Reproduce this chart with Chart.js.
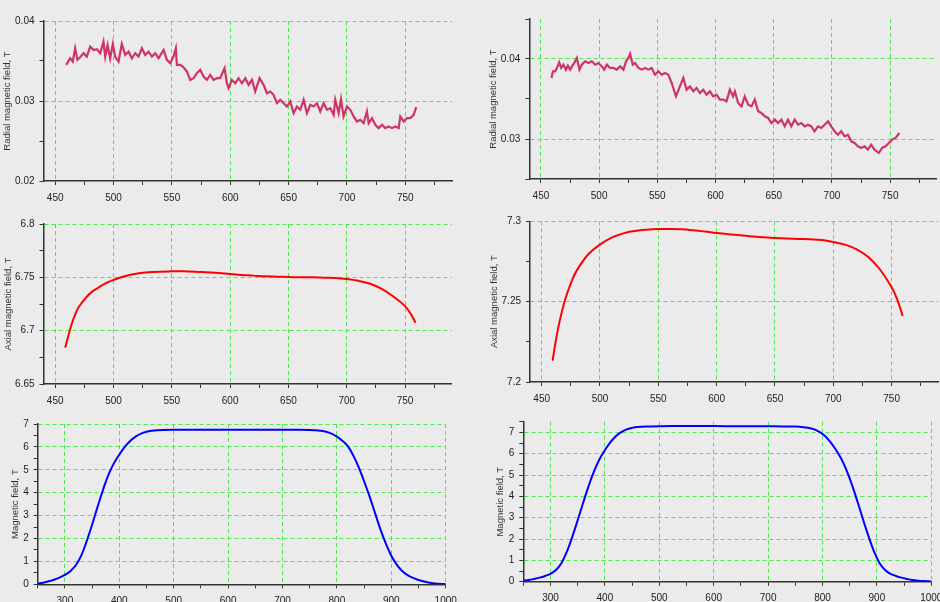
<!DOCTYPE html>
<html>
<head>
<meta charset="utf-8">
<script src="https://cdn.jsdelivr.net/npm/chart.js@4.4.1/dist/chart.umd.min.js"></script>
<style>
  html, body { margin: 0; padding: 0; background: #ebebeb; overflow: hidden; width: 940px; height: 602px; }
  canvas { position: absolute; }
</style>
</head>
<body>
<canvas id="c1"></canvas>
<canvas id="c2"></canvas>
<canvas id="c3"></canvas>
<canvas id="c4"></canvas>
<canvas id="c5"></canvas>
<canvas id="c6"></canvas>
<script>
// ---- data ----
// radial field, left magnet (mm, T)
const radialX1 = [459.4, 462.9, 465.1, 467.1, 469.1, 471.4, 474.3, 477.1, 480.0, 482.9, 485.7, 488.6, 491.4, 492.9, 494.9, 497.1, 499.4, 501.4, 504.3, 507.1,
  510.0, 512.9, 515.7, 518.6, 521.4, 524.3, 527.1, 530.0, 532.9, 535.7, 538.6, 542.9, 545.7, 548.6, 551.4, 553.4, 554.3, 557.1, 559.4, 562.9,
  565.7, 568.6, 571.4, 574.3, 577.1, 580.0, 582.9, 585.7, 588.6, 591.4, 595.1, 597.1, 598.6, 601.4, 604.3, 607.1, 610.0, 612.9, 615.7, 618.6,
  621.4, 625.1, 628.6, 631.4, 634.3, 637.1, 640.0, 642.9, 645.7, 648.6, 651.4, 654.3, 657.1, 660.0, 662.9, 665.7, 668.6, 671.4, 674.3, 677.1,
  680.0, 682.9, 685.7, 688.6, 690.0, 692.9, 694.9, 697.1, 700.0, 702.9, 705.7, 708.6, 711.4, 714.3, 717.1, 718.6, 721.4, 724.3, 727.1, 730.0,
  732.9, 735.7, 738.6, 741.4, 744.3, 745.7, 748.6, 751.4, 754.3, 757.1, 759.4];
const radialB1 = [0.03451, 0.03534, 0.03493, 0.03659, 0.03514, 0.03547, 0.03597, 0.03555, 0.03680, 0.03638, 0.03647, 0.03597, 0.03742, 0.03555, 0.03701, 0.03534, 0.03713, 0.03555, 0.03493, 0.03713,
  0.03576, 0.03617, 0.03534, 0.03597, 0.03555, 0.03659, 0.03576, 0.03617, 0.03555, 0.03597, 0.03534, 0.03638, 0.03514, 0.03472, 0.03555, 0.03659, 0.03451, 0.03451, 0.03430, 0.03368,
  0.03264, 0.03285, 0.03347, 0.03389, 0.03306, 0.03264, 0.03326, 0.03264, 0.03285, 0.03285, 0.03410, 0.03222, 0.03160, 0.03264, 0.03222, 0.03285, 0.03222, 0.03285, 0.03202, 0.03264,
  0.03119, 0.03285, 0.03202, 0.03098, 0.03119, 0.03077, 0.02973, 0.03015, 0.02973, 0.02931, 0.02994, 0.02848, 0.02931, 0.02890, 0.03015, 0.02848, 0.02952, 0.02931, 0.02973, 0.02869,
  0.02973, 0.02890, 0.02911, 0.02827, 0.03015, 0.02848, 0.03023, 0.02807, 0.02931, 0.02890, 0.02807, 0.02744, 0.02765, 0.02723, 0.02869, 0.02723, 0.02786, 0.02703, 0.02661, 0.02703,
  0.02661, 0.02682, 0.02661, 0.02682, 0.02661, 0.02807, 0.02744, 0.02786, 0.02786, 0.02827, 0.02923];

// radial field, right magnet
const radialX2 = [459.1, 460.3, 462.3, 463.7, 465.7, 467.4, 469.4, 471.4, 473.1, 475.1, 476.6, 478.6, 480.9, 483.1, 485.1, 488.0, 490.9, 493.7, 496.6, 499.4,
  502.3, 504.3, 506.6, 509.4, 512.3, 515.1, 518.0, 520.9, 523.1, 525.1, 526.6, 528.9, 530.9, 533.7, 536.6, 539.4, 542.3, 545.1, 548.0, 550.9,
  553.7, 556.6, 559.4, 562.3, 566.0, 568.9, 572.3, 575.1, 578.0, 580.9, 583.7, 586.6, 589.4, 592.3, 595.1, 598.0, 600.9, 603.7, 606.6, 609.4,
  612.3, 615.1, 616.6, 619.4, 622.3, 625.1, 628.0, 630.9, 633.7, 636.6, 639.4, 642.3, 645.1, 648.0, 650.9, 653.7, 656.6, 659.4, 662.3, 665.1,
  668.0, 670.9, 673.7, 676.6, 679.4, 682.3, 685.1, 688.0, 690.9, 693.7, 696.6, 699.4, 702.3, 705.1, 708.0, 710.9, 713.7, 716.6, 719.4, 722.3,
  725.1, 728.0, 730.9, 733.7, 736.6, 740.3, 743.1, 746.0, 748.9, 751.7, 754.6, 758.0];
const radialB2 = [0.03763, 0.03846, 0.03846, 0.03888, 0.03958, 0.03888, 0.03929, 0.03867, 0.03917, 0.03867, 0.03908, 0.03950, 0.04013, 0.03867, 0.03929, 0.03971, 0.03950, 0.03971, 0.03929, 0.03950,
  0.03908, 0.03867, 0.03929, 0.03888, 0.03888, 0.03867, 0.03908, 0.03867, 0.03971, 0.04013, 0.04063, 0.03929, 0.03950, 0.03888, 0.03867, 0.03888, 0.03867, 0.03888, 0.03804, 0.03846,
  0.03804, 0.03825, 0.03804, 0.03700, 0.03533, 0.03638, 0.03763, 0.03617, 0.03658, 0.03596, 0.03638, 0.03575, 0.03617, 0.03554, 0.03596, 0.03533, 0.03554, 0.03492, 0.03492, 0.03471,
  0.03617, 0.03533, 0.03596, 0.03450, 0.03408, 0.03533, 0.03429, 0.03408, 0.03492, 0.03346, 0.03325, 0.03283, 0.03263, 0.03200, 0.03242, 0.03200, 0.03242, 0.03158, 0.03242, 0.03158,
  0.03242, 0.03179, 0.03200, 0.03158, 0.03179, 0.03158, 0.03096, 0.03158, 0.03138, 0.03179, 0.03221, 0.03158, 0.03096, 0.03054, 0.03096, 0.03033, 0.03054, 0.02971, 0.02950, 0.02908,
  0.02888, 0.02908, 0.02867, 0.02929, 0.02867, 0.02825, 0.02888, 0.02908, 0.02950, 0.02992, 0.03013, 0.03075];

// axial field near the plateau
const axialX1 = [458.6, 461.5, 464.4, 467.2, 470.1, 475.9, 481.6, 487.4, 493.1, 500, 510.3, 521.8, 533.3, 549.7, 560, 570, 580, 590, 600, 610,
  620, 630, 640, 650, 660, 670, 680, 690, 700, 710, 720, 730, 740, 750, 755, 759];
const axialB1 = [6.6841, 6.6959, 6.7069, 6.7153, 6.7219, 6.7303, 6.7366, 6.7406, 6.7444, 6.7475, 6.7513, 6.7538, 6.7550, 6.7556, 6.7556, 6.7553, 6.7547, 6.7541, 6.7531, 6.7522,
  6.7516, 6.7509, 6.7506, 6.7503, 6.7500, 6.7500, 6.7497, 6.7494, 6.7484, 6.7467, 6.7440, 6.7392, 6.7320, 6.7230, 6.7155, 6.7075];
const axialX2 = [459.4, 462, 465, 470, 475, 480, 490, 500, 510, 520, 530, 540, 550, 560, 570, 580, 590, 600, 610, 620,
  630, 640, 650, 660, 670, 680, 690, 700, 710, 720, 730, 740, 750, 755, 759.4];
const axialB2 = [7.2133, 7.2251, 7.2365, 7.2510, 7.2614, 7.2693, 7.2795, 7.2855, 7.2898, 7.2925, 7.2940, 7.2948, 7.2952, 7.2952, 7.2950, 7.2944, 7.2936, 7.2927, 7.2920, 7.2913,
  7.2906, 7.2900, 7.2896, 7.2893, 7.2890, 7.2888, 7.2884, 7.2871, 7.2855, 7.2826, 7.2778, 7.2700, 7.2590, 7.2510, 7.2411];

// full field profile
const fieldX1 = [250, 260, 270, 280, 290, 300, 310, 320, 330, 340, 350, 360, 370, 380, 390, 400, 410, 420, 430, 440,
  450, 460, 470, 480, 500, 550, 600, 650, 700, 730, 750, 760, 770, 780, 790, 800, 810, 820, 830, 840,
  850, 860, 870, 880, 890, 900, 910, 920, 930, 940, 950, 960, 970, 980, 1000];
const fieldB1 = [0.03, 0.07, 0.13, 0.20, 0.29, 0.41, 0.575, 0.83, 1.25, 1.88, 2.6, 3.38, 4.12, 4.78, 5.28, 5.66, 6.0, 6.26, 6.45, 6.58,
  6.66, 6.705, 6.73, 6.742, 6.75, 6.75, 6.75, 6.75, 6.75, 6.75, 6.742, 6.73, 6.705, 6.66, 6.58, 6.45, 6.27, 6.03, 5.63, 5.12,
  4.50, 3.84, 3.12, 2.40, 1.78, 1.25, 0.86, 0.58, 0.40, 0.28, 0.19, 0.12, 0.07, 0.035, 0.01];
const fieldX2 = [250, 260, 270, 280, 290, 300, 310, 320, 330, 340, 350, 360, 370, 380, 390, 400, 410, 420, 430, 440,
  450, 460, 475, 500, 550, 600, 650, 700, 725, 750, 765, 775, 785, 795, 805, 815, 825, 835, 845, 855,
  865, 875, 885, 895, 905, 915, 925, 935, 945, 955, 965, 975, 985, 1000];
const fieldB2 = [0.05, 0.08, 0.13, 0.19, 0.27, 0.37, 0.55, 0.87, 1.40, 2.10, 2.88, 3.70, 4.48, 5.17, 5.74, 6.17, 6.53, 6.82, 7.01, 7.14,
  7.21, 7.25, 7.275, 7.29, 7.30, 7.295, 7.29, 7.285, 7.28, 7.27, 7.245, 7.205, 7.14, 7.01, 6.82, 6.53, 6.17, 5.74, 5.17, 4.48,
  3.70, 2.88, 2.10, 1.40, 0.87, 0.55, 0.37, 0.27, 0.19, 0.13, 0.08, 0.05, 0.03, 0.015];

// ---- look ----
const GRID = '#4de84d';
const AXIS = '#333333';
const TEXT = '#222222';
const FONT = "'Liberation Sans', Arial, sans-serif";

function near(v, step) {
  const r = v / step;
  return Math.abs(r - Math.round(r)) < 1e-6;
}
function fmt(v) {
  return String(parseFloat(v.toFixed(4)));
}
function pairs(xs, ys) {
  return xs.map((x, i) => ({ x: x, y: ys[i] }));
}

// one linear axis: minor = tick spacing, label = labelled ticks, grid = dashed lines
function axis(frame, horiz, a) {
  return {
    type: 'linear',
    position: horiz ? 'bottom' : 'left',
    min: a.min,
    max: a.max,
    afterBuildTicks: s => {
      const t = [];
      for (let k = Math.ceil(a.min / a.minor - 1e-6); k * a.minor <= a.max + 1e-9; k++) {
        t.push({ value: +(k * a.minor).toFixed(6) });
      }
      s.ticks = t;
    },
    afterFit: s => {
      if (horiz) s.height = frame.xh;
      else s.width = frame.plot.l - frame.left;
    },
    ticks: {
      autoSkip: false,
      maxRotation: 0,
      padding: horiz ? 7 : 5,
      color: TEXT,
      font: { family: FONT, size: 10 },
      callback: v => near(v, a.label) ? fmt(v) : ''
    },
    grid: {
      color: c => (c.tick && c.tick.value !== a.min && near(c.tick.value, a.grid)) ? GRID : 'rgba(0,0,0,0)',
      lineWidth: 1,
      tickColor: AXIS,
      tickLength: 4,
      tickWidth: 1
    },
    border: { color: AXIS, width: 1.5, dash: [4, 3] },
    title: horiz ? { display: false } : {
      display: true,
      text: a.title,
      color: '#333333',
      font: { family: FONT, size: 9.5 },
      padding: { top: frame.titleX - frame.left - 5.7, bottom: 0 }
    }
  };
}

function panel(frame, xs, ys, color, smooth, xa, ya) {
  const el = document.getElementById(frame.id);
  el.width = frame.width;
  el.height = frame.height;
  el.style.left = frame.left + 'px';
  el.style.top = frame.top + 'px';
  frame.xh = frame.top + frame.height - frame.plot.b;
  return new Chart(el, {
    type: 'line',
    data: {
      datasets: [{
        data: pairs(xs, ys),
        borderColor: color,
        borderWidth: smooth ? 2 : 2.2,
        pointRadius: 0,
        fill: false,
        tension: smooth ? 0.4 : 0
      }]
    },
    options: {
      responsive: false,
      animation: false,
      events: [],
      layout: {
        padding: {
          left: 0,
          top: frame.plot.t - frame.top,
          right: frame.left + frame.width - frame.plot.r,
          bottom: 0
        }
      },
      plugins: { legend: { display: false }, tooltip: { enabled: false } },
      scales: {
        x: axis(frame, true, xa),
        y: axis(frame, false, ya)
      }
    }
  });
}

const xShort = { min: 440, max: 790, minor: 25, label: 50, grid: 50 };
const xLong = { min: 250, max: 1000, minor: 50, label: 100, grid: 100 };

panel({ id: 'c1', left: 0, top: 0, width: 470, height: 211, plot: { l: 43.5, t: 21, r: 452, b: 181 }, titleX: 7.7 },
  radialX1, radialB1, '#cf3466', false, xShort,
  { min: 0.02, max: 0.04, minor: 0.005, label: 0.01, grid: 0.01, title: 'Radial magnetic field, T' });

panel({ id: 'c2', left: 470, top: 0, width: 480, height: 209, plot: { l: 529.3, t: 19, r: 936.7, b: 179 }, titleX: 493.3 },
  radialX2, radialB2, '#cf3466', false, xShort,
  { min: 0.025, max: 0.045, minor: 0.005, label: 0.01, grid: 0.01, title: 'Radial magnetic field, T' });

panel({ id: 'c3', left: 0, top: 204, width: 470, height: 210, plot: { l: 43.5, t: 224, r: 451.7, b: 384 }, titleX: 8.7 },
  axialX1, axialB1, '#ff0000', true, xShort,
  { min: 6.65, max: 6.8, minor: 0.025, label: 0.05, grid: 0.05, title: 'Axial magnetic field, T' });

panel({ id: 'c4', left: 470, top: 201, width: 480, height: 211, plot: { l: 530, t: 221.3, r: 938.3, b: 382 }, titleX: 494.3 },
  axialX2, axialB2, '#ff0000', true, xShort,
  { min: 7.2, max: 7.3, minor: 0.025, label: 0.05, grid: 0.05, title: 'Axial magnetic field, T' });

panel({ id: 'c5', left: 0, top: 404, width: 470, height: 211, plot: { l: 37.7, t: 424, r: 445.7, b: 584.3 }, titleX: 15.3 },
  fieldX1, fieldB1, '#0000ff', true, xLong,
  { min: 0, max: 7, minor: 0.5, label: 1, grid: 1, title: 'Magnetic field, T' });

panel({ id: 'c6', left: 470, top: 402, width: 490, height: 210, plot: { l: 523.3, t: 421.7, r: 931.3, b: 581.7 }, titleX: 500.3 },
  fieldX2, fieldB2, '#0000ff', true, xLong,
  { min: 0, max: 7.5, minor: 0.5, label: 1, grid: 1, title: 'Magnetic field, T' });
</script>
</body>
</html>
